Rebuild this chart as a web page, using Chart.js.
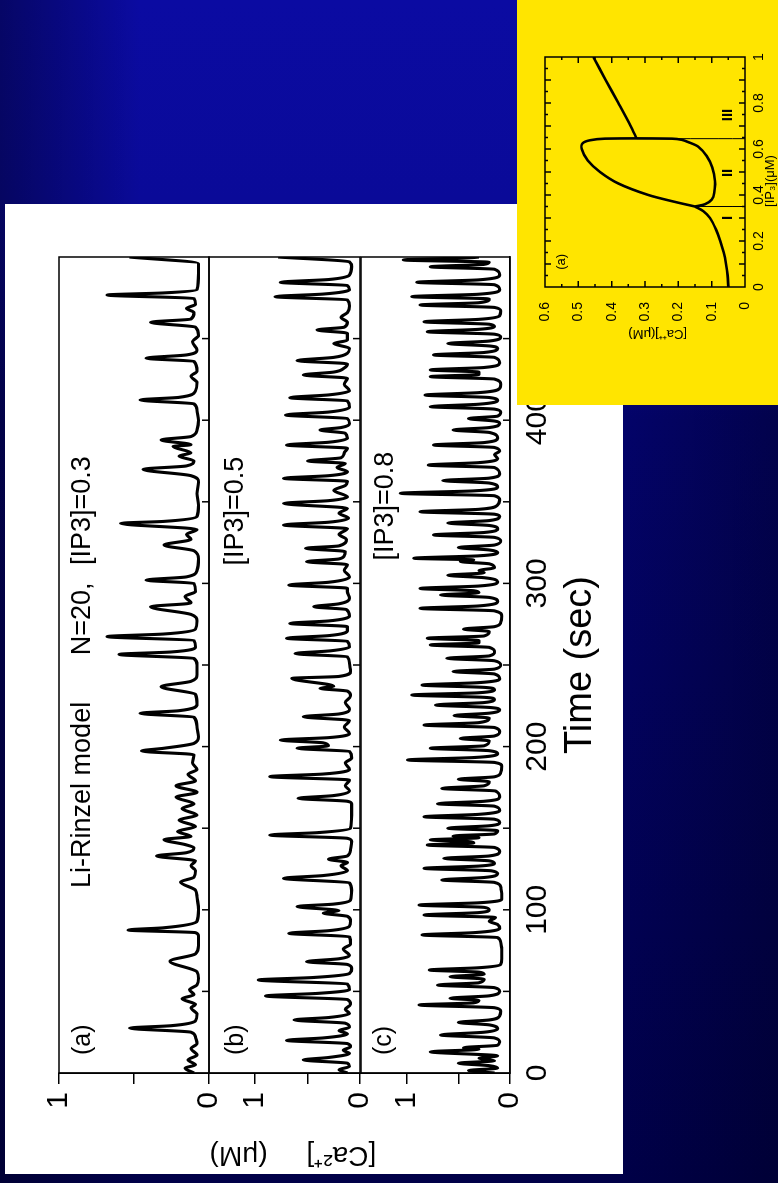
<!DOCTYPE html>
<html>
<head>
<meta charset="utf-8">
<script src="https://cdn.jsdelivr.net/npm/chart.js@4.4.1/dist/chart.umd.min.js"></script>
<style>
  html, body { margin: 0; padding: 0; }
  body {
    width: 778px; height: 1183px; overflow: hidden; position: relative;
    background:
      linear-gradient(to right, rgba(0,0,30,0.45) 0px, rgba(0,0,0,0) 140px),
      linear-gradient(to left, rgba(0,0,20,0.35) 0px, rgba(0,0,0,0) 160px),
      linear-gradient(to bottom, #0b0ba2 0px, #0a0a98 200px, #03036a 420px, #000048 1183px);
  }
  .rot { position: absolute; transform-origin: 0 0; transform: rotate(-90deg); }
  #sheet { left: 5px; top: 1174px; width: 970px; height: 618px; background: #fff; }
  #inset { left: 517px; top: 405px; width: 405px; height: 261px; background: #ffe500; z-index: 2; }
  canvas { position: absolute; left: 0; }
</style>
</head>
<body>
<div id="sheet" class="rot">
  <canvas id="panelA" width="970" height="230" style="top:0px"></canvas>
  <canvas id="panelB" width="970" height="260" style="top:150px"></canvas>
  <canvas id="panelC" width="970" height="288" style="top:330px"></canvas>
</div>
<div id="inset" class="rot">
  <canvas id="bifurcation" width="405" height="261" style="top:0px"></canvas>
</div>
<script>
const FONT = "'Liberation Sans', Arial, sans-serif";

// [Ca2+] traces: [time (s), concentration (uM)]
const traceA = [[0,0.10],[3,0.16],[5,0.09],[8,0.14],[11,0.08],[15,0.12],[18,0.08],[22,0.09],[25,0.12],[27.5,0.53],[29,0.25],[32,0.09],[36,0.08],[40,0.12],[42,0.09],[45.5,0.18],[48,0.10],[51,0.13],[54,0.08],[58,0.07],[62,0.08],[68.5,0.26],[73,0.09],[78,0.07],[84,0.07],[86,0.09],[87.6,0.54],[89,0.3],[93,0.08],[100,0.07],[108,0.08],[112,0.09],[117,0.19],[120,0.10],[124,0.09],[127,0.12],[130,0.09],[133,0.35],[135,0.15],[138,0.10],[140,0.16],[143,0.3],[145,0.12],[148,0.21],[151,0.09],[155,0.2],[158,0.08],[162,0.18],[165,0.10],[169,0.22],[172,0.08],[176,0.22],[179,0.09],[183,0.14],[186,0.08],[190,0.11],[195,0.1],[197.3,0.45],[199,0.3],[202,0.10],[206,0.07],[212,0.08],[218,0.1],[220.4,0.46],[222,0.2],[226,0.08],[232,0.09],[236.7,0.32],[240,0.12],[244,0.08],[250,0.08],[254,0.1],[256.5,0.6],[258,0.25],[261,0.09],[265,0.1],[267.4,0.68],[269,0.3],[272,0.09],[277,0.08],[281,0.12],[285.7,0.39],[288,0.12],[292,0.16],[295,0.09],[300,0.1],[302,0.42],[304,0.15],[308,0.08],[315,0.07],[320,0.1],[323.5,0.30],[327,0.12],[330,0.15],[333,0.08],[336.8,0.59],[338,0.3],[341,0.08],[348,0.07],[355,0.08],[362,0.07],[366,0.12],[369.9,0.44],[372,0.15],[375,0.10],[378,0.2],[380,0.12],[383.9,0.24],[385,0.12],[387.9,0.32],[390,0.12],[394,0.08],[400,0.07],[406,0.08],[410,0.1],[412.4,0.46],[414,0.2],[418,0.09],[423,0.08],[427,0.12],[430,0.08],[436,0.1],[438,0.42],[440,0.15],[443,0.08],[448,0.11],[452,0.07],[457,0.09],[460,0.39],[462,0.12],[466,0.1],[468.5,0.15],[471,0.09],[474.6,0.1],[476.7,0.68],[478,0.3],[480,0.08],[490,0.07],[496,0.07],[500,0.53]];

const traceB = [[0,0.12],[2,0.2],[4,0.1],[6,0.12],[8,0.54],[9.5,0.3],[12,0.1],[14,0.16],[16,0.09],[18,0.12],[20,0.70],[21.5,0.35],[24,0.12],[26,0.2],[28,0.1],[30.5,0.14],[32.5,0.63],[34,0.3],[36.5,0.1],[39,0.14],[42,0.09],[45,0.12],[47.2,0.90],[48.8,0.4],[51,0.1],[54.5,0.12],[57,0.97],[58.5,0.45],[61,0.1],[64,0.08],[66.5,0.12],[68.2,0.51],[70,0.2],[72,0.1],[76,0.16],[79,0.09],[83.5,0.1],[85.6,0.68],[87.2,0.3],[90,0.1],[93,0.09],[96,0.12],[98,0.35],[99.5,0.2],[102,0.60],[103.5,0.25],[106,0.09],[112,0.08],[116.5,0.1],[119.3,0.73],[121,0.35],[124,0.12],[127,0.18],[129,0.12],[131,0.30],[133,0.12],[137,0.09],[142,0.08],[143.8,0.12],[145.8,0.86],[147.3,0.4],[150,0.09],[158,0.08],[165,0.08],[166.5,0.12],[168.3,0.59],[170,0.25],[173,0.1],[176,0.14],[179.5,0.1],[181.6,0.86],[183.2,0.35],[186,0.1],[190,0.14],[193,0.08],[197,0.1],[199,0.60],[200.5,0.3],[202.3,0.35],[204,0.76],[205.5,0.3],[208,0.1],[212,0.15],[216,0.1],[218.3,0.54],[220,0.2],[223,0.1],[227,0.14],[231,0.09],[234,0.12],[235.7,0.38],[237,0.25],[241.8,0.65],[243,0.2],[246,0.09],[251,0.1],[255,0.12],[257,0.62],[258.7,0.28],[261,0.1],[264.5,0.12],[266.4,0.70],[268,0.3],[271,0.12],[273.5,0.12],[275.5,0.67],[277,0.3],[280,0.1],[284,0.13],[285.7,0.44],[287.5,0.2],[291,0.1],[295,0.12],[297,0.12],[299,0.68],[300.7,0.3],[304,0.1],[308,0.15],[311.5,0.12],[313.3,0.51],[315,0.2],[317,0.15],[319.5,0.14],[321.5,0.52],[323,0.2],[327,0.13],[330,0.2],[333.5,0.12],[335.8,0.73],[337.5,0.3],[340,0.11],[343,0.2],[346,0.12],[349,0.73],[350.7,0.3],[353,0.12],[357,0.25],[360,0.14],[362.5,0.12],[364.4,0.73],[366,0.3],[368.5,0.12],[371,0.22],[373.5,0.14],[375,0.5],[377,0.18],[380,0.15],[382.8,0.12],[384.8,0.70],[386.5,0.3],[389,0.12],[392,0.14],[394,0.38],[395.5,0.18],[398,0.1],[401,0.12],[403.2,0.71],[405,0.3],[408,0.1],[411.8,0.12],[413.8,0.67],[415.5,0.3],[418,0.1],[422,0.15],[425.7,0.12],[427.7,0.54],[429.5,0.25],[432,0.15],[434.5,0.12],[436.5,0.60],[438.5,0.25],[441,0.12],[444,0.1],[447,0.25],[449,0.12],[453.3,0.12],[455.3,0.41],[457,0.15],[460,0.12],[463,0.18],[466,0.12],[470,0.1],[473.7,0.12],[475.7,0.81],[477.3,0.35],[480,0.1],[482.5,0.12],[484.5,0.76],[486.2,0.3],[489,0.1],[494,0.08],[497,0.1],[500,0.78]];

const traceC = [[0,0.15],[1.5,0.4],[3,0.12],[4.5,0.2],[6,0.5],[7.5,0.15],[9,0.3],[10.5,0.12],[13,0.77],[14.5,0.3],[15.5,0.45],[17,0.12],[19,0.1],[21.5,0.15],[23.3,0.67],[25,0.25],[27,0.12],[29.5,0.2],[31,0.5],[32.5,0.2],[35,0.1],[38,0.09],[40,0.15],[41.7,0.88],[43,0.35],[44.5,0.3],[45.8,0.58],[47.3,0.2],[50,0.1],[52.3,0.15],[53.9,0.70],[55.3,0.3],[57.5,0.25],[59,0.58],[60.5,0.25],[61.8,0.3],[63.1,0.78],[64.5,0.3],[66.5,0.09],[70,0.08],[76,0.08],[80,0.09],[83,0.12],[84.6,0.85],[86,0.35],[88.5,0.1],[91,0.12],[93,0.2],[95.3,0.14],[96.8,0.83],[98.3,0.3],[100,0.2],[101.5,0.25],[102.9,0.88],[104.3,0.3],[106.5,0.08],[110,0.08],[114,0.09],[116.8,0.15],[118.3,0.66],[119.8,0.25],[122,0.12],[123.9,0.18],[125.4,0.83],[126.8,0.3],[128.5,0.15],[130,0.2],[131.5,0.64],[133,0.2],[135.5,0.1],[138.2,0.15],[139.7,0.80],[141,0.35],[141.8,0.4],[142.8,0.77],[144.2,0.3],[145.2,0.55],[146.5,0.15],[148.5,0.12],[150,0.6],[151.5,0.2],[153.5,0.1],[155.5,0.15],[157,0.83],[158.5,0.3],[161,0.1],[163.5,0.15],[165,0.7],[166.5,0.25],[169,0.1],[172.8,0.14],[174.4,0.66],[176,0.25],[178.5,0.2],[180,0.5],[181.5,0.15],[184,0.09],[188,0.08],[190.3,0.15],[191.8,0.99],[193.3,0.35],[195.5,0.12],[197.5,0.2],[199,0.77],[200.5,0.25],[203.5,0.2],[205,0.48],[206.5,0.15],[209,0.1],[211.7,0.15],[213.2,0.83],[214.7,0.3],[217.5,0.2],[219,0.54],[220.5,0.2],[222.5,0.1],[224,0.2],[225.5,0.72],[227,0.25],[229,0.15],[230.2,0.25],[231.6,0.95],[233,0.3],[235,0.15],[236.3,0.25],[237.7,0.85],[239.2,0.3],[241.5,0.1],[244.5,0.15],[246,0.55],[247.5,0.15],[250,0.09],[252.6,0.15],[254.1,0.61],[255.6,0.2],[258,0.15],[260.8,0.2],[262.3,0.77],[263.6,0.3],[265,0.3],[266.4,0.8],[267.8,0.25],[270.5,0.2],[272,0.45],[273.5,0.15],[276,0.09],[280,0.08],[283.2,0.15],[284.7,0.87],[286.2,0.3],[289,0.12],[291.4,0.2],[292.9,0.67],[294.3,0.3],[295.5,0.35],[296.9,0.87],[298.4,0.3],[301,0.12],[303.5,0.25],[305,0.6],[306.5,0.25],[308,0.3],[309.5,0.15],[312,0.2],[313.4,0.48],[314.4,0.35],[315.4,0.93],[316.9,0.3],[319,0.12],[320.5,0.2],[322,0.5],[323.5,0.15],[326,0.09],[328.2,0.15],[329.7,0.74],[331.2,0.25],[333.5,0.12],[335.5,0.2],[337,0.6],[338.5,0.2],[341,0.1],[342.4,0.15],[343.9,0.87],[345.4,0.3],[348,0.12],[351,0.1],[353.7,0.15],[355.2,1.06],[356.7,0.35],[359,0.12],[361.5,0.2],[363,0.65],[364.5,0.2],[367,0.1],[371,0.15],[372.5,0.79],[374,0.3],[376.5,0.12],[379,0.15],[381,0.1],[383.3,0.15],[384.8,0.74],[386.3,0.25],[389,0.12],[392.5,0.2],[394,0.55],[395.5,0.2],[398,0.1],[399.5,0.15],[401,0.4],[402.5,0.12],[405,0.09],[406.8,0.15],[408.3,0.77],[409.8,0.3],[412,0.12],[413.9,0.2],[415.4,0.82],[416.9,0.3],[419.5,0.1],[422,0.09],[425.2,0.15],[426.7,0.77],[428,0.3],[429.5,0.3],[430.8,0.77],[432.3,0.25],[435,0.1],[438.5,0.15],[440,0.74],[441.5,0.25],[444,0.12],[445.5,0.2],[447,0.6],[448.5,0.2],[451,0.09],[452.7,0.15],[454.2,0.80],[455.7,0.3],[457.5,0.15],[458.8,0.2],[460.3,0.83],[461.8,0.3],[464,0.1],[467,0.09],[469.1,0.15],[470.6,0.87],[472,0.3],[474.3,0.2],[475.7,0.95],[477.2,0.3],[480,0.1],[483,0.15],[484.5,0.90],[486,0.3],[489,0.1],[492.5,0.15],[494,0.77],[495.5,0.25],[496.8,0.2],[498.2,1.03],[499.5,0.4],[500,0.3]];

const timeLabels = [0, 100, 200, 300, 400, 500];
const timeMarks = [50, 100, 150, 200, 250, 300, 350, 400, 450];
const caTicks = [0, 0.5, 1];

// inset: bifurcation diagram, [IP3 (uM), Ca (uM)]
const lowerBranch = [[0,0.05],[0.05,0.052],[0.1,0.057],[0.15,0.064],[0.2,0.074],[0.25,0.087],[0.3,0.105],[0.33,0.125],[0.35,0.15]];
const loopBranch = [[0.35,0.15],[0.37,0.21],[0.4,0.29],[0.45,0.38],[0.5,0.435],[0.55,0.472],[0.6,0.49],[0.625,0.487],[0.638,0.465],[0.645,0.42],[0.645,0.22],[0.64,0.19],[0.63,0.17],[0.61,0.14],[0.57,0.115],[0.52,0.098],[0.46,0.09],[0.41,0.092],[0.38,0.1],[0.36,0.12],[0.35,0.15]];
const upperBranch = [[0.645,0.325],[0.7,0.343],[0.8,0.38],[0.9,0.418],[1.0,0.455]];
const edgeI = [[0.35,0],[0.35,0.15]];
const edgeII = [[0.645,0],[0.645,0.325]];
const ip3Labels = [0, 0.2, 0.4, 0.6, 0.8, 1];
const ip3Major = [0.1, 0.2, 0.3, 0.4, 0.5, 0.6, 0.7, 0.8, 0.9];
const ip3Minor = [0.05, 0.15, 0.25, 0.35, 0.45, 0.55, 0.65, 0.75, 0.85, 0.95];
const caInsetLabels = [0, 0.1, 0.2, 0.3, 0.4, 0.5, 0.6];
const caInsetMajor = [0.1, 0.2, 0.3, 0.4, 0.5];
const caInsetMinor = [0.05, 0.15, 0.25, 0.35, 0.45, 0.55];

const toPts = arr => arr.map(([x, y]) => ({ x, y }));

// frame, inward tick marks, in-plot labels and a free y title
const frameDeco = {
  id: 'frameDeco',
  afterDatasetsDraw(chart, args, o) {
    const { ctx, chartArea: a, scales } = chart;
    ctx.save();
    ctx.strokeStyle = '#000';
    ctx.lineWidth = 1.5;
    ctx.strokeRect(a.left, a.top, a.width, a.height);
    (o.marks || []).forEach(m => {
      const sc = scales[m.axis];
      m.values.forEach(v => {
        const p = sc.getPixelForValue(v);
        ctx.beginPath();
        m.sides.forEach(side => {
          if (side === 'bottom') { ctx.moveTo(p, a.bottom); ctx.lineTo(p, a.bottom - m.len); }
          if (side === 'top') { ctx.moveTo(p, a.top); ctx.lineTo(p, a.top + m.len); }
          if (side === 'left') { ctx.moveTo(a.left, p); ctx.lineTo(a.left + m.len, p); }
          if (side === 'right') { ctx.moveTo(a.right, p); ctx.lineTo(a.right - m.len, p); }
        });
        ctx.stroke();
      });
    });
    ctx.fillStyle = '#000';
    ctx.textBaseline = 'middle';
    (o.texts || []).forEach(t => {
      ctx.font = t.font;
      ctx.textAlign = t.align || 'left';
      ctx.fillText(t.text, scales.x.getPixelForValue(t.x), scales.y.getPixelForValue(t.y));
    });
    if (o.yTitle) {
      ctx.font = o.yTitle.font;
      ctx.textAlign = 'center';
      ctx.translate(o.yTitle.px, scales.y.getPixelForValue(o.yTitle.at));
      ctx.rotate(-Math.PI / 2);
      ctx.fillText(o.yTitle.text, 0, 0);
    }
    ctx.restore();
  }
};

function makePanel(id, trace, yMax, pad, texts, bottomAxis, yTitle) {
  return new Chart(document.getElementById(id), {
    type: 'line',
    data: {
      datasets: [{
        data: toPts(trace),
        borderColor: '#000',
        borderWidth: 3.1,
        pointRadius: 0,
        cubicInterpolationMode: 'monotone',
        fill: false
      }]
    },
    options: {
      responsive: false,
      animation: false,
      devicePixelRatio: 1,
      layout: { padding: { left: 0, right: 53, top: pad[0], bottom: pad[1] } },
      plugins: {
        legend: { display: false },
        tooltip: { enabled: false },
        frameDeco: {
          marks: [{ axis: 'x', values: timeMarks, len: 7, sides: ['bottom'] }],
          texts: texts,
          yTitle: yTitle
        }
      },
      scales: {
        x: {
          type: 'linear', min: 0, max: 500,
          display: bottomAxis,
          afterBuildTicks: s => { s.ticks = timeLabels.map(v => ({ value: v })); },
          afterFit: s => { if (bottomAxis) s.height = 113; },
          grid: { display: false, drawTicks: false, tickLength: 0 },
          border: { display: true, color: '#000', width: 1.5 },
          ticks: { color: '#000', padding: 10, maxRotation: 0, autoSkip: false, font: { family: FONT, size: 30 } },
          title: {
            display: true, text: 'Time (sec)', color: '#000',
            font: { family: FONT, size: 38 }, padding: { top: 0, bottom: 20 }
          }
        },
        y: {
          min: 0, max: yMax,
          afterBuildTicks: s => { s.ticks = caTicks.map(v => ({ value: v })); },
          afterFit: s => { s.width = 101; },
          grid: { drawOnChartArea: false, drawTicks: true, tickLength: 11, color: '#000', lineWidth: 1.5 },
          border: { display: true, color: '#000', width: 1.5 },
          ticks: {
            color: '#000', padding: 8, autoSkip: false,
            font: { family: FONT, size: 30 },
            callback: v => (v === 0.5 ? '' : String(v))
          }
        }
      }
    },
    plugins: [frameDeco]
  });
}

const textFont = '27px ' + FONT;

makePanel('panelA', traceA, 1, [54, 26], [
  { text: '(a)', x: 11, y: 0.84, font: '25px ' + FONT },
  { text: 'Li-Rinzel model', x: 113.4, y: 0.84, font: textFont },
  { text: 'N=20,', x: 256, y: 0.84, font: textFont },
  { text: '[IP3]=0.3', x: 311.3, y: 0.84, font: textFont }
], false);

makePanel('panelB', traceB, 1.44, [54, 55], [
  { text: '(b)', x: 11, y: 1.18, font: '25px ' + FONT },
  { text: '[IP3]=0.5', x: 311, y: 1.19, font: textFont }
], false, {
  text: '[Ca\u00B2\u207A]     (\u03BCM)', font: '28px ' + FONT, px: 19, at: 0.64
});

makePanel('panelC', traceC, 1.44, [25, 0], [
  { text: '(c)', x: 11, y: 1.22, font: '25px ' + FONT },
  { text: '[IP3]=0.8', x: 314, y: 1.2, font: textFont }
], true);

// inset bifurcation diagram
const insetLine = (arr, w) => ({
  data: toPts(arr), showLine: true, borderColor: '#000', borderWidth: w,
  pointRadius: 0, fill: false, tension: 0.3
});

new Chart(document.getElementById('bifurcation'), {
  type: 'scatter',
  data: {
    datasets: [
      insetLine(lowerBranch, 2.6),
      insetLine(loopBranch, 2.6),
      insetLine(upperBranch, 2.6),
      insetLine(edgeI, 1),
      insetLine(edgeII, 1)
    ]
  },
  options: {
    responsive: false,
    animation: false,
    devicePixelRatio: 1,
    layout: { padding: { left: 60, right: 57, top: 28, bottom: 0 } },
    plugins: {
      legend: { display: false },
      tooltip: { enabled: false },
      frameDeco: {
        marks: [
          { axis: 'x', values: ip3Major, len: 6, sides: ['bottom', 'top'] },
          { axis: 'x', values: ip3Minor, len: 3, sides: ['bottom', 'top'] },
          { axis: 'y', values: caInsetMajor, len: 6, sides: ['left', 'right'] },
          { axis: 'y', values: caInsetMinor, len: 3, sides: ['left', 'right'] }
        ],
        texts: [
          { text: '(a)', x: 0.075, y: 0.55, font: '13px ' + FONT },
          { text: 'I', x: 0.30, y: 0.05, font: 'bold 15px ' + FONT, align: 'center' },
          { text: 'II', x: 0.496, y: 0.05, font: 'bold 15px ' + FONT, align: 'center' },
          { text: 'III', x: 0.748, y: 0.05, font: 'bold 15px ' + FONT, align: 'center' }
        ]
      }
    },
    scales: {
      x: {
        type: 'linear', min: 0, max: 1,
        afterBuildTicks: s => { s.ticks = ip3Labels.map(v => ({ value: v })); },
        afterFit: s => { s.height = 33; },
        grid: { display: false, drawTicks: false, tickLength: 0 },
        border: { display: false },
        ticks: { color: '#000', padding: 6, maxRotation: 0, autoSkip: false, font: { family: FONT, size: 14 }, callback: v => String(v) },
        title: {
          display: true, text: '[IP\u2083](\u03BCM)     ', color: '#000',
          font: { family: FONT, size: 13 }, padding: { top: 0, bottom: 0 }
        }
      },
      y: {
        min: 0, max: 0.6,
        afterBuildTicks: s => { s.ticks = caInsetLabels.map(v => ({ value: v })); },
        afterFit: s => { s.width = 58; },
        grid: { display: false, drawTicks: false, tickLength: 0 },
        border: { display: false },
        ticks: { color: '#000', padding: 15, autoSkip: false, font: { family: FONT, size: 14 }, callback: v => (v === 0 ? '0' : v.toFixed(1)) },
        title: {
          display: true, text: '[Ca\u207A\u207A](\u03BCM)       ', color: '#000',
          font: { family: FONT, size: 13 }, padding: { top: 4, bottom: 0 }
        }
      }
    }
  },
  plugins: [frameDeco]
});
</script>
</body>
</html>
